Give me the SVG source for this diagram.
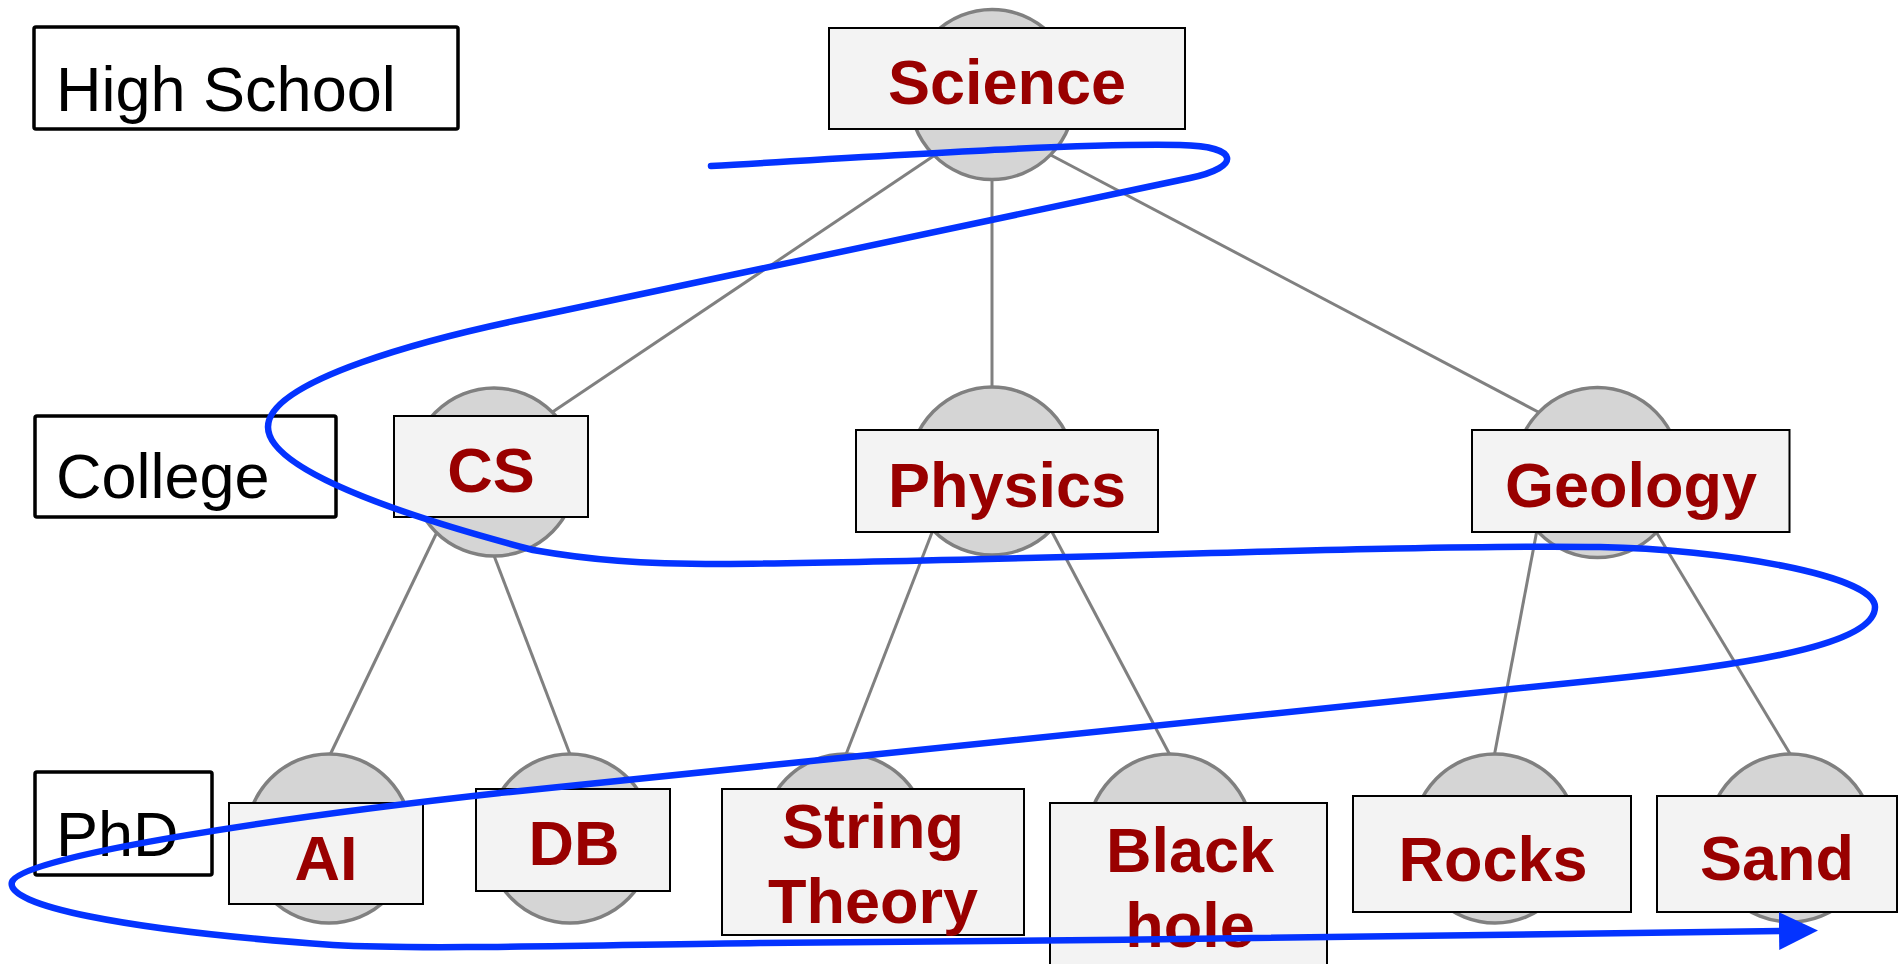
<svg xmlns="http://www.w3.org/2000/svg" width="1902" height="964" viewBox="0 0 1902 964">
<style>
.bg{fill:#ffffff}
.edge{stroke:#808080;stroke-width:3;fill:none}
.ball{fill:#d5d5d5;stroke:#808080;stroke-width:3.5}
.box{fill:#f3f3f3;stroke:#000000;stroke-width:2}
.lbl{font-family:"Liberation Sans",Arial,sans-serif;font-weight:bold;font-size:63px;fill:#990000;text-anchor:middle}
.lvl{fill:#ffffff;stroke:#000000;stroke-width:3.5}
.lvt{font-family:"Liberation Sans",Arial,sans-serif;font-size:63px;fill:#000000}
.walk{fill:none;stroke:#0433ff;stroke-width:6.5;stroke-linecap:round}
</style>
<defs>
<marker id="arrow" markerUnits="userSpaceOnUse" markerWidth="40" markerHeight="40" refX="6" refY="19" orient="auto">
<path d="M0,0 L39,19 L0,38 Z" fill="#0433ff"/>
</marker>
</defs>
<rect class="bg" x="0" y="0" width="1902" height="964"/>

<g id="levels">
<g id="level-highschool"><rect class="lvl" x="34" y="27" width="424" height="102" rx="2"/><text class="lvt" x="56" y="111">High School</text></g>
<g id="level-college"><rect class="lvl" x="35" y="416" width="301" height="101" rx="2"/><text class="lvt" x="56" y="498">College</text></g>
<g id="level-phd"><rect class="lvl" x="35" y="772" width="177" height="103" rx="2"/><text class="lvt" x="56" y="856">PhD</text></g>
</g>

<g id="connectors">
<line class="edge" x1="935" y1="155" x2="548" y2="415"/>
<line class="edge" x1="992" y1="175" x2="992" y2="392"/>
<line class="edge" x1="1045" y1="152" x2="1542" y2="414"/>
<line class="edge" x1="438" y1="530" x2="329" y2="757"/>
<line class="edge" x1="493" y1="553" x2="571" y2="757"/>
<line class="edge" x1="933" y1="530" x2="845" y2="757"/>
<line class="edge" x1="1051" y1="530" x2="1171" y2="757"/>
<line class="edge" x1="1537" y1="530" x2="1494" y2="757"/>
<line class="edge" x1="1655" y1="530" x2="1792" y2="757"/>
</g>

<g id="node-science"><ellipse class="ball" cx="992" cy="94.5" rx="83" ry="85"/><rect class="box" x="829" y="28" width="356" height="101"/><text class="lbl" x="1007" y="104">Science</text></g>
<g id="node-cs"><ellipse class="ball" cx="494" cy="472" rx="83" ry="84"/><rect class="box" x="394" y="416" width="194" height="101"/><text class="lbl" x="491" y="492">CS</text></g>
<g id="node-physics"><ellipse class="ball" cx="992" cy="471" rx="83" ry="84"/><rect class="box" x="856" y="430" width="302" height="102"/><text class="lbl" x="1007" y="507">Physics</text></g>
<g id="node-geology"><ellipse class="ball" cx="1597.5" cy="472.5" rx="83" ry="85"/><rect class="box" x="1472" y="430" width="317.5" height="102"/><text class="lbl" x="1631" y="507">Geology</text></g>
<g id="node-ai"><ellipse class="ball" cx="329" cy="838.5" rx="83" ry="84.5"/><rect class="box" x="229" y="803" width="194" height="101"/><text class="lbl" x="326" y="880">AI</text></g>
<g id="node-db"><ellipse class="ball" cx="570" cy="838.5" rx="83" ry="84.5"/><rect class="box" x="476" y="789" width="194" height="102"/><text class="lbl" x="574" y="865">DB</text></g>
<g id="node-string"><ellipse class="ball" cx="845" cy="838.5" rx="83" ry="84.5"/><rect class="box" x="722" y="789" width="302" height="146"/><text class="lbl" x="873" y="848">String</text><text class="lbl" x="873" y="923">Theory</text></g>
<g id="node-blackhole"><ellipse class="ball" cx="1170" cy="838.5" rx="83" ry="84.5"/><rect class="box" x="1050" y="803" width="277" height="180"/><text class="lbl" x="1190" y="872">Black</text><text class="lbl" x="1190" y="947">hole</text></g>
<g id="node-rocks"><ellipse class="ball" cx="1495" cy="838.5" rx="83" ry="84.5"/><rect class="box" x="1353" y="796" width="278" height="116"/><text class="lbl" x="1493" y="881">Rocks</text></g>
<g id="node-sand"><ellipse class="ball" cx="1790.5" cy="838" rx="83" ry="84"/><rect class="box" x="1657" y="796" width="240" height="116"/><text class="lbl" x="1777" y="880">Sand</text></g>

<g id="traversal">
<path class="walk" marker-end="url(#arrow)" d="M711,166 C900,155 1080,143 1180,145 C1240,146 1242,167 1190,178 C970,224 750,271 533,317 C430,338 268,380 268,427 C268,470 400,515 533,550 C590,560 640,564 720,564 C1000,562 1400,544 1600,547 C1720,549 1875,575 1875,607 C1875,640 1780,662 1600,680 C1300,710 900,752 500,793 C300,815 20,855 12,882 C5,905 120,930 333,945 C420,950 600,945 760,943 C1100,941 1500,935 1785,931"/>
</g>
</svg>
